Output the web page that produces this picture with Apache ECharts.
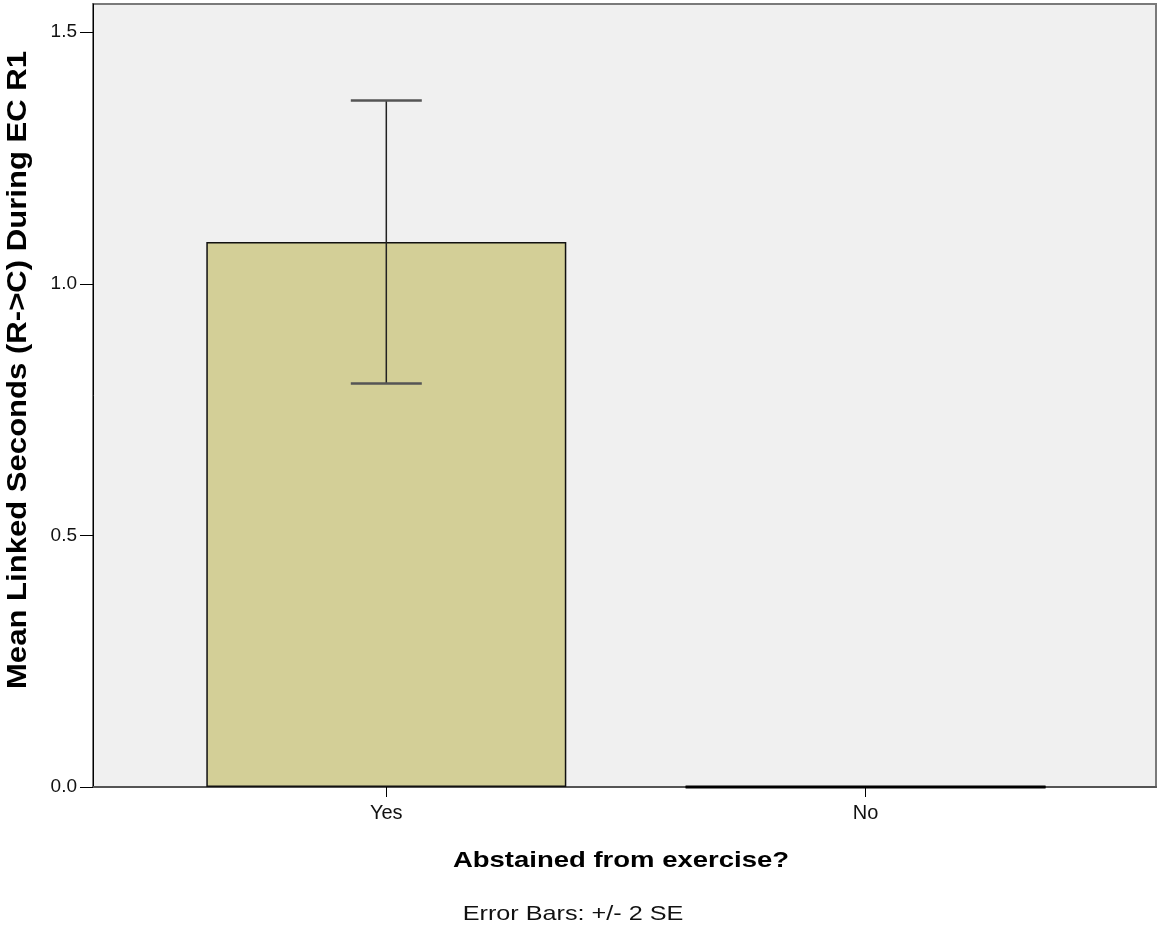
<!DOCTYPE html>
<html>
<head>
<meta charset="utf-8">
<script src="https://cdn.jsdelivr.net/npm/echarts@6/dist/echarts.min.js"></script>
<style>
html,body{margin:0;padding:0;background:#fff;}
#chart{width:1158px;height:930px;}
</style>
</head>
<body>
<div id="chart"></div>
<script>
// ---- data ----
const categories = ['Yes', 'No'];
const meanValues = [1.083, 0];
const errLow = [0.802, null];
const errHigh = [1.364, null];
const yTicks = [0, 0.5, 1.0, 1.5];
const yAxisTitle = 'Mean Linked Seconds (R->C) During EC R1';
const xAxisTitle = 'Abstained from exercise?';
const footnote = 'Error Bars: +/- 2 SE';

const positions = categories.map((c, i) => i + 1);
const barData = categories.map((c, i) => [positions[i], meanValues[i]]);
const errData = [];
categories.forEach((c, i) => {
  if (errLow[i] != null) errData.push([positions[i], errLow[i], errHigh[i]]);
});

const FONT = 'Liberation Sans, Arial, sans-serif';
const chart = echarts.init(document.getElementById('chart'), null, {renderer: 'canvas'});

chart.setOption({
  animation: false,
  backgroundColor: '#ffffff',
  grid: {
    left: 93, right: 2, top: 4, bottom: 143,
    show: true, backgroundColor: '#f0f0f0',
    borderColor: '#7a7a7a', borderWidth: 2
  },
  xAxis: {
    type: 'value',
    min: 0.388, max: 2.606,
    splitLine: {show: false},
    axisLine: {show: true, onZero: false, lineStyle: {color: '#555', width: 2}},
    axisTick: {show: true, length: 10, lineStyle: {color: '#000', width: 1}, customValues: positions},
    axisLabel: {
      show: true, margin: 16, fontFamily: FONT, fontSize: 20, color: '#111',
      customValues: positions,
      formatter: v => categories[Math.round(v) - 1] || ''
    }
  },
  yAxis: {
    type: 'value',
    min: 0, max: 1.556,
    splitLine: {show: false},
    axisLine: {show: true, onZero: false, lineStyle: {color: '#000', width: 1}},
    axisTick: {show: true, length: 13, lineStyle: {color: '#000', width: 1}, customValues: yTicks},
    axisLabel: {
      show: true, margin: 16, fontFamily: FONT, fontSize: 19, color: '#111',
      customValues: yTicks,
      formatter: v => v.toFixed(1)
    }
  },
  series: [
    {
      type: 'bar',
      data: barData,
      barWidth: 360,
      itemStyle: {color: '#d3cf97', borderColor: '#111', borderWidth: 1.5},
      z: 2
    },
    {
      type: 'custom',
      data: errData,
      z: 5,
      renderItem: function (params, api) {
        const x = api.value(0);
        const lo = api.coord([x, api.value(1)]);
        const hi = api.coord([x, api.value(2)]);
        const hw = 35.5;
        return {
          type: 'group',
          children: [
            {type: 'line', shape: {x1: lo[0], y1: lo[1], x2: hi[0], y2: hi[1]},
             style: {stroke: '#222', lineWidth: 1.5}},
            {type: 'line', shape: {x1: hi[0] - hw, y1: hi[1], x2: hi[0] + hw, y2: hi[1]},
             style: {stroke: '#555', lineWidth: 2.5}},
            {type: 'line', shape: {x1: lo[0] - hw, y1: lo[1], x2: lo[0] + hw, y2: lo[1]},
             style: {stroke: '#555', lineWidth: 2.5}}
          ]
        };
      }
    },
    {
      // outline of the zero-height bar
      type: 'custom',
      data: barData.filter(d => d[1] === 0),
      z: 6,
      renderItem: function (params, api) {
        const p = api.coord([api.value(0), api.value(1)]);
        return {type: 'line', shape: {x1: p[0] - 180, y1: p[1], x2: p[0] + 180, y2: p[1]},
                style: {stroke: '#000', lineWidth: 3}};
      }
    }
  ],
  graphic: [
    {type: 'text', x: 18, y: 370, rotation: Math.PI / 2,
     style: {text: yAxisTitle, font: 'bold 28px ' + FONT, fill: '#000', align: 'center', verticalAlign: 'middle'},
     scaleX: 1.11},
    {type: 'text', x: 621, y: 861, scaleX: 1.25,
     style: {text: xAxisTitle, font: 'bold 22px ' + FONT, fill: '#000', align: 'center', verticalAlign: 'middle'}},
    {type: 'text', x: 573, y: 914, scaleX: 1.2,
     style: {text: footnote, font: '21px ' + FONT, fill: '#111', align: 'center', verticalAlign: 'middle'}}
  ]
});
</script>
</body>
</html>
